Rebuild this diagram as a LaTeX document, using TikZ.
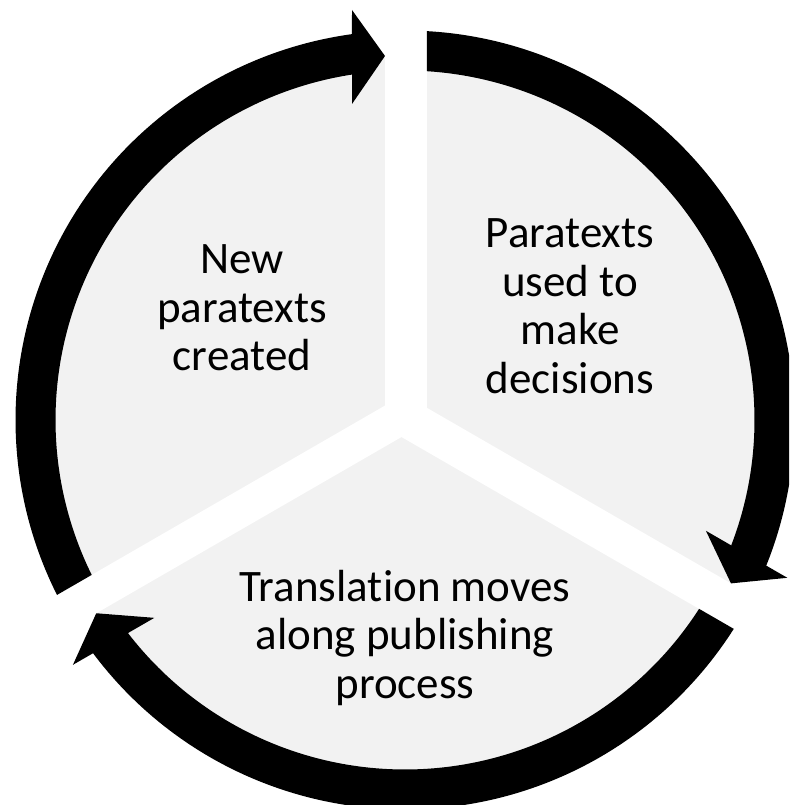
\documentclass[tikz,border=0pt]{standalone}
\usepackage{fontspec}
\setmainfont[Ligatures=NoCommon]{Carlito}
\definecolor{sectorgrey}{RGB}{242,242,242}
\begin{document}
\begin{tikzpicture}[x=1pt, y=1pt,
    cycletext/.style={align=center, font=\fontsize{45}{48.5}\selectfont}]
    \useasboundingbox (-405,-385) rectangle (384,420);
    \clip (-405,-385) rectangle (384,420);

    % grey disk, cut into three sectors by white gaps
    \fill[sectorgrey] (0,0) circle (363pt);
    \foreach \p/\ta/\tb in {90/-22/20, -30/-16.5/21.5, 210/-22.5/13}
        \fill[white, rotate=\p] (0,\ta) rectangle (420,\tb);

    % ring segments: start at one gap, arrow head at the next
    \foreach \ps/\ts/\pe/\te in {90/-22/-30/21.5, -30/-16.5/-150/13, -150/-22.5/-270/20} {
        \pgfmathsetmacro\tb{\te+33}
        \pgfmathsetmacro\aso{\ps+asin(\ts/389.5)}
        \pgfmathsetmacro\asi{\ps+asin(\ts/349.5)}
        \pgfmathsetmacro\aeo{\pe+asin(\tb/389.5)}
        \pgfmathsetmacro\aei{\pe+asin(\tb/349.5)}
        \fill[black] (\aso:389.5) arc[start angle=\aso, end angle=\aeo, radius=389.5pt]
            -- ([rotate=\pe]410,\tb) -- ([rotate=\pe]364,\te) -- ([rotate=\pe]316,\tb)
            -- (\aei:349.5) arc[start angle=\aei, end angle=\asi, radius=349.5pt] -- cycle;
    }

    \node[cycletext] (decide) at (165,114) {Paratexts\\used to\\make\\decisions};
    \node[cycletext] (move) at (0,-218) {Translation moves\\along publishing\\process};
    \node[cycletext] (create) at (-163,112) {New\\paratexts\\created};
\end{tikzpicture}
\end{document}
